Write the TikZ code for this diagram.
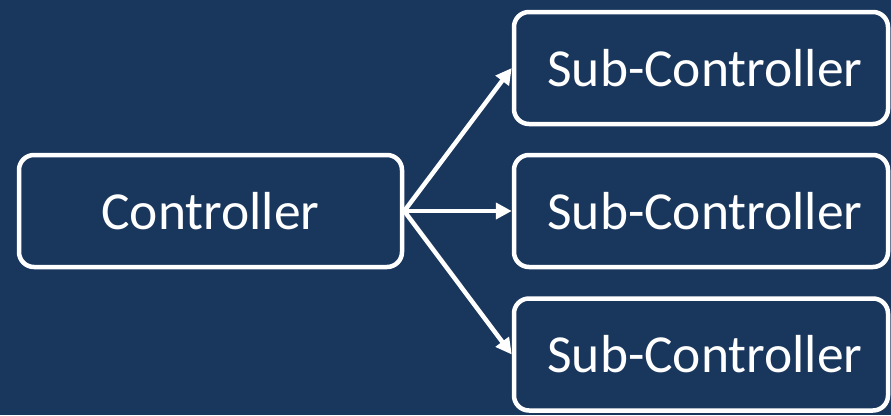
\documentclass[tikz,border=0pt]{standalone}
\usepackage{fontspec}
\setmainfont{Carlito}
\usetikzlibrary{arrows.meta}
\definecolor{navy}{RGB}{25,54,93}
\tikzset{
  box/.style={draw=white, line width=4.5pt, rounded corners=15pt, fill=navy,
    text=white, font=\fontsize{53.5}{60}\selectfont, inner sep=0pt, anchor=center},
  link/.style={draw=white, line width=4.5pt, -{Triangle[length=16pt,width=16pt]}}
}
\begin{document}
\begin{tikzpicture}[x=1pt,y=-1pt]
  \fill[navy] (0,0) rectangle (891,415);
  \useasboundingbox (0,0) rectangle (891,415);
  \node[box, minimum width=383pt, minimum height=112pt] (ctl) at (210.5,211) {Controller};
  \node[box, minimum width=374pt, minimum height=112pt] (s1) at (701,68) {\hspace{8pt}Sub-Controller};
  \node[box, minimum width=374pt, minimum height=112pt] (s2) at (701,211) {\hspace{8pt}Sub-Controller};
  \node[box, minimum width=374pt, minimum height=112pt] (s3) at (701,354.5) {\hspace{8pt}Sub-Controller};
  \draw[link] (ctl.east) -- (s1.west);
  \draw[link] (ctl.east) -- (s2.west);
  \draw[link] (ctl.east) -- (s3.west);
\end{tikzpicture}
\end{document}
